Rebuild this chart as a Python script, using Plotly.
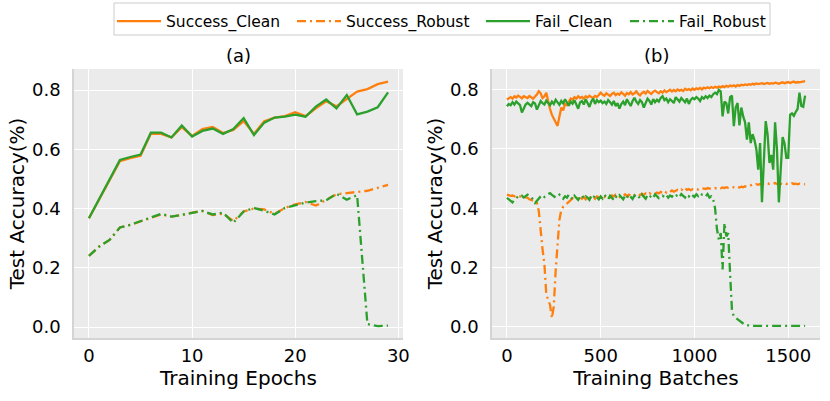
import plotly.graph_objects as go

# ---------------- data: panel (a) ----------------
epochs = list(range(30))
sc_a = [0.367, 0.432, 0.498, 0.560, 0.570, 0.578, 0.652, 0.652, 0.640, 0.675,
        0.645, 0.668, 0.675, 0.655, 0.665, 0.695, 0.652, 0.695, 0.707, 0.712,
        0.725, 0.712, 0.738, 0.762, 0.745, 0.770, 0.795, 0.803, 0.820, 0.828]
fc_a = [0.367, 0.432, 0.498, 0.564, 0.574, 0.582, 0.656, 0.656, 0.640, 0.680,
        0.643, 0.662, 0.670, 0.652, 0.668, 0.705, 0.648, 0.690, 0.707, 0.710,
        0.717, 0.710, 0.744, 0.768, 0.738, 0.783, 0.718, 0.727, 0.742, 0.792]
sr_a = [0.240, 0.272, 0.294, 0.336, 0.345, 0.357, 0.370, 0.380, 0.373, 0.378,
        0.386, 0.392, 0.378, 0.383, 0.358, 0.390, 0.400, 0.397, 0.382, 0.402,
        0.414, 0.422, 0.410, 0.428, 0.448, 0.452, 0.455, 0.460, 0.470, 0.480]
fr_a = [0.240, 0.272, 0.294, 0.336, 0.345, 0.357, 0.370, 0.382, 0.373, 0.378,
        0.385, 0.392, 0.380, 0.386, 0.352, 0.390, 0.402, 0.392, 0.380, 0.402,
        0.412, 0.420, 0.425, 0.428, 0.450, 0.430, 0.445, 0.010, 0.003, 0.005]

# ---------------- data: panel (b) ----------------
batches = list(range(0, 1600, 10))
sc_b = [0.767, 0.772, 0.775, 0.770, 0.778, 0.774, 0.780, 0.776, 0.771, 0.778,
        0.775, 0.772, 0.779, 0.774, 0.770, 0.777, 0.784, 0.795, 0.788, 0.772,
        0.778, 0.790, 0.760, 0.735, 0.715, 0.700, 0.690, 0.678, 0.705, 0.740,
        0.730, 0.752, 0.748, 0.762, 0.770, 0.766, 0.775, 0.770, 0.778, 0.772,
        0.776, 0.770, 0.778, 0.774, 0.780, 0.775, 0.772, 0.779, 0.776, 0.782,
        0.790, 0.784, 0.780, 0.788, 0.782, 0.779, 0.786, 0.790, 0.782, 0.787,
        0.783, 0.791, 0.786, 0.780, 0.789, 0.785, 0.792, 0.784, 0.788, 0.795,
        0.786, 0.781, 0.789, 0.793, 0.787, 0.796, 0.790, 0.786, 0.793, 0.797,
        0.792, 0.788, 0.795, 0.790, 0.798, 0.792, 0.796, 0.800, 0.794, 0.799,
        0.795, 0.801, 0.797, 0.800, 0.796, 0.803, 0.799, 0.802, 0.798, 0.804,
        0.800, 0.805, 0.802, 0.806, 0.801, 0.807, 0.804, 0.808, 0.805, 0.809,
        0.806, 0.810, 0.807, 0.811, 0.808, 0.812, 0.809, 0.813, 0.810, 0.814,
        0.812, 0.815, 0.811, 0.816, 0.813, 0.817, 0.815, 0.818, 0.816, 0.819,
        0.817, 0.820, 0.818, 0.821, 0.819, 0.820, 0.822, 0.819, 0.821, 0.823,
        0.820, 0.822, 0.821, 0.824, 0.822, 0.820, 0.823, 0.825, 0.822, 0.824,
        0.826, 0.823, 0.825, 0.828, 0.824, 0.826, 0.825, 0.827, 0.828, 0.829]
fc_b = [0.744, 0.752, 0.748, 0.758, 0.750, 0.760, 0.754, 0.748, 0.723, 0.738,
        0.750, 0.756, 0.752, 0.745, 0.758, 0.754, 0.733, 0.748, 0.762, 0.755,
        0.750, 0.763, 0.757, 0.748, 0.760, 0.752, 0.766, 0.756, 0.749, 0.762,
        0.754, 0.768, 0.758, 0.746, 0.760, 0.753, 0.765, 0.748, 0.736, 0.757,
        0.762, 0.750, 0.768, 0.755, 0.742, 0.760, 0.770, 0.752, 0.765, 0.758,
        0.763, 0.755, 0.760, 0.752, 0.765, 0.758, 0.750, 0.762, 0.745, 0.755,
        0.736, 0.752, 0.760, 0.748, 0.768, 0.756, 0.745, 0.762, 0.773, 0.760,
        0.752, 0.765, 0.758, 0.740, 0.756, 0.770, 0.762, 0.750, 0.768, 0.758,
        0.766, 0.760, 0.772, 0.778, 0.765, 0.770, 0.758, 0.768, 0.762, 0.755,
        0.775, 0.768, 0.760, 0.772, 0.765, 0.758, 0.770, 0.752, 0.766, 0.772,
        0.768, 0.775, 0.770, 0.762, 0.775, 0.770, 0.778, 0.772, 0.780, 0.775,
        0.785, 0.790, 0.785, 0.800, 0.795, 0.710, 0.760, 0.755, 0.720, 0.775,
        0.780, 0.677, 0.740, 0.755, 0.680, 0.740, 0.710, 0.690, 0.632, 0.690,
        0.620, 0.650, 0.630, 0.600, 0.530, 0.620, 0.420, 0.560, 0.694, 0.650,
        0.553, 0.580, 0.530, 0.690, 0.600, 0.420, 0.520, 0.640, 0.620, 0.570,
        0.570, 0.715, 0.720, 0.712, 0.725, 0.735, 0.790, 0.745, 0.742, 0.780]
sr_b = [0.446, 0.444, 0.442, 0.443, 0.440, 0.441, 0.438, 0.440, 0.437, 0.438,
        0.436, 0.435, 0.430, 0.428, 0.425, 0.420, 0.418, 0.390, 0.316, 0.262,
        0.210, 0.110, 0.090, 0.074, 0.029, 0.069, 0.190, 0.294, 0.361, 0.395,
        0.405, 0.410, 0.415, 0.422, 0.428, 0.433, 0.430, 0.436, 0.429, 0.437,
        0.432, 0.438, 0.430, 0.436, 0.441, 0.434, 0.439, 0.432, 0.440, 0.437,
        0.435, 0.442, 0.438, 0.444, 0.439, 0.436, 0.443, 0.440, 0.446, 0.441,
        0.438, 0.445, 0.442, 0.447, 0.440, 0.446, 0.443, 0.448, 0.444, 0.441,
        0.447, 0.444, 0.449, 0.445, 0.450, 0.446, 0.451, 0.447, 0.452, 0.449,
        0.453, 0.450, 0.455, 0.451, 0.457, 0.453, 0.458, 0.455, 0.460, 0.456,
        0.459, 0.462, 0.458, 0.463, 0.460, 0.468, 0.462, 0.465, 0.461, 0.464,
        0.462, 0.465, 0.463, 0.466, 0.464, 0.467, 0.465, 0.468, 0.466, 0.467,
        0.465, 0.468, 0.466, 0.469, 0.467, 0.470, 0.468, 0.471, 0.469, 0.470,
        0.468, 0.471, 0.469, 0.472, 0.470, 0.473, 0.471, 0.474, 0.472, 0.475,
        0.477, 0.480, 0.478, 0.481, 0.479, 0.482, 0.480, 0.483, 0.481, 0.484,
        0.482, 0.484, 0.483, 0.485, 0.482, 0.484, 0.483, 0.481, 0.484, 0.482,
        0.483, 0.481, 0.484, 0.482, 0.483, 0.481, 0.483, 0.482, 0.480, 0.481]
fr_b = [0.435, 0.430, 0.425, 0.420, 0.428, 0.435, 0.440, 0.438, 0.442, 0.436,
        0.440, 0.446, 0.442, 0.436, 0.430, 0.418, 0.425, 0.435, 0.440, 0.445,
        0.438, 0.444, 0.448, 0.451, 0.445, 0.440, 0.436, 0.440, 0.446, 0.438,
        0.432, 0.440, 0.436, 0.446, 0.438, 0.430, 0.442, 0.435, 0.428, 0.438,
        0.444, 0.432, 0.440, 0.436, 0.428, 0.441, 0.434, 0.444, 0.437, 0.430,
        0.440, 0.433, 0.445, 0.438, 0.430, 0.442, 0.436, 0.428, 0.440, 0.434,
        0.444, 0.437, 0.430, 0.442, 0.435, 0.446, 0.438, 0.431, 0.443, 0.436,
        0.441, 0.434, 0.446, 0.438, 0.432, 0.444, 0.437, 0.442, 0.435, 0.447,
        0.440, 0.434, 0.435, 0.442, 0.438, 0.445, 0.436, 0.443, 0.439, 0.447,
        0.441, 0.445, 0.438, 0.448, 0.442, 0.436, 0.446, 0.440, 0.449, 0.443,
        0.438, 0.447, 0.441, 0.450, 0.446, 0.446, 0.440, 0.448, 0.436, 0.440,
        0.430, 0.400, 0.330, 0.294, 0.316, 0.193, 0.350, 0.305, 0.316, 0.180,
        0.057, 0.035, 0.030, 0.024, 0.020, 0.014, 0.010, 0.006, 0.005, 0.004,
        0.003, 0.003, 0.003, 0.003, 0.003, 0.003, 0.003, 0.003, 0.003, 0.003,
        0.003, 0.003, 0.003, 0.003, 0.003, 0.003, 0.003, 0.003, 0.003, 0.003,
        0.003, 0.003, 0.003, 0.003, 0.003, 0.003, 0.003, 0.003, 0.003, 0.003]

series_names = ["Success_Clean", "Success_Robust", "Fail_Clean", "Fail_Robust"]
y_ticks = [0.0, 0.2, 0.4, 0.6, 0.8]
y_tick_text = ["0.0", "0.2", "0.4", "0.6", "0.8"]
xa_ticks = [0, 10, 20, 30]
xb_ticks = [0, 500, 1000, 1500]
panel_titles = ["(a)", "(b)"]
x_titles = ["Training Epochs", "Training Batches"]
y_title = "Test Accuracy(%)"

ORANGE = "#ff7f0e"
GREEN = "#2ca02c"
DASHDOT = "9px,4px,2px,4px"
FONT = "DejaVu Sans"
W, H = 830, 401

styles = [
    dict(color=ORANGE, dash="solid"),
    dict(color=ORANGE, dash=DASHDOT),
    dict(color=GREEN, dash="solid"),
    dict(color=GREEN, dash=DASHDOT),
]
legend_ids = ["legend", "legend2", "legend3", "legend4"]

fig = go.Figure()
panel_a = [sc_a, sr_a, fc_a, fr_a]
panel_b = [sc_b, sr_b, fc_b, fr_b]
for i, name in enumerate(series_names):
    fig.add_trace(go.Scatter(x=epochs, y=panel_a[i], mode="lines", name=name,
                             line=dict(width=2.3, **styles[i]),
                             xaxis="x", yaxis="y", legend=legend_ids[i],
                             showlegend=True))
for i, name in enumerate(series_names):
    fig.add_trace(go.Scatter(x=batches, y=panel_b[i], mode="lines", name=name,
                             line=dict(width=2.3, **styles[i]),
                             xaxis="x2", yaxis="y2", showlegend=False))

def px_x(p):
    return p / W

def px_y(p):
    return 1 - p / H

dom_a = [px_x(74), px_x(403)]
dom_b = [px_x(492), px_x(820)]
dom_y = [px_y(338), px_y(69)]

axis_common = dict(
    showgrid=True, gridcolor="white", gridwidth=1.2, zeroline=False,
    showline=True, linecolor="#d4d4d4", linewidth=1.5,
    ticks="", tickfont=dict(family=FONT, size=18, color="black"),
    automargin=False,
)

fig.update_layout(
    width=W, height=H,
    margin=dict(l=0, r=0, t=0, b=0, autoexpand=False),
    paper_bgcolor="white", plot_bgcolor="#ebebeb",
    font=dict(family=FONT, color="black"),
    xaxis=dict(domain=dom_a, range=[-1.45, 30.45], tickvals=xa_ticks,
               anchor="y", ticklabelstandoff=1,
               title=dict(text=x_titles[0], font=dict(size=20), standoff=4),
               **axis_common),
    yaxis=dict(domain=dom_y, range=[-0.037, 0.871], tickvals=y_ticks,
               ticktext=y_tick_text, anchor="x", ticklabelstandoff=8,
               title=dict(text=y_title, font=dict(size=20), standoff=2),
               **axis_common),
    xaxis2=dict(domain=dom_b, range=[-79.5, 1669.5], tickvals=xb_ticks,
                anchor="y2", ticklabelstandoff=1,
                title=dict(text=x_titles[1], font=dict(size=20), standoff=4),
                **axis_common),
    yaxis2=dict(domain=dom_y, range=[-0.038, 0.870], tickvals=y_ticks,
                ticktext=y_tick_text, anchor="x2", ticklabelstandoff=8,
                title=dict(text=y_title, font=dict(size=20), standoff=2),
                **axis_common),
    showlegend=True,
)

# subplot titles
for dom, t in zip([dom_a, dom_b], panel_titles):
    fig.add_annotation(text=t, x=(dom[0] + dom[1]) / 2, y=px_y(56),
                       xref="paper", yref="paper", showarrow=False,
                       xanchor="center", yanchor="middle",
                       font=dict(family=FONT, size=18, color="black"))

# legend frame
fig.add_shape(type="rect", xref="paper", yref="paper",
              x0=px_x(114), x1=px_x(770), y0=px_y(35), y1=px_y(3),
              line=dict(color="#cccccc", width=1), fillcolor="white",
              layer="below")

legend_starts = [119, 299, 488, 632]
leg_layout = {}
for lid, start in zip(legend_ids, legend_starts):
    leg_layout[lid] = dict(
        x=px_x(start - 7), y=px_y(4.5), xanchor="left", yanchor="top",
        orientation="h", bgcolor="rgba(0,0,0,0)", borderwidth=0,
        font=dict(family=FONT, size=15.5, color="black"),
        itemwidth=44,
    )
fig.update_layout(**leg_layout)

fig.write_html("out.html", post_script="document.body.style.margin='0';",
               config={"displayModeBar": False})
